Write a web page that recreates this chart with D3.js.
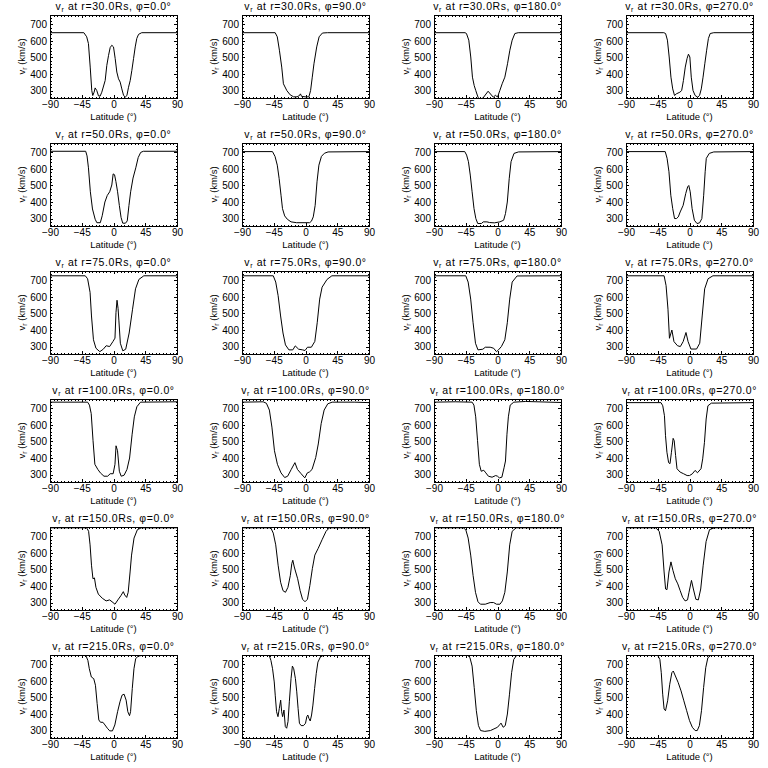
<!DOCTYPE html>
<html><head><meta charset="utf-8">
<script src="https://cdn.jsdelivr.net/npm/d3@7"></script>
<style>
body{margin:0;background:#fff}
svg{display:block;background:#fff}
text{font-family:"Liberation Sans",Arial,sans-serif;fill:#000}
</style>
</head><body>
<svg id="chart" width="768" height="768"></svg>
<script>
// ---- data ----
const latTicks = [-90, -45, 0, 45, 90];
const vTicks = [300, 400, 500, 600, 700];
const radii = [30, 50, 75, 100, 150, 215];
const phis = [0, 90, 180, 270];

const r30_phi0 = [[-90,650],[-42,650],[-38,625],[-35.5,584],[-33,442],[-30.8,300],[-29.4,270],[-27.5,290],[-26,316],[-23.7,300],[-21.3,268],[-19,266],[-16.6,290],[-11.8,361],[-9.5,452],[-7,513],[-4.7,560],[-2.4,574],[0,564],[2.4,493],[4.7,412],[7.1,371],[9.5,351],[11.8,310],[14.2,272],[16.6,260],[19,270],[21.3,320],[23.7,361],[26,422],[28.4,493],[30.8,564],[33,615],[35.5,640],[40,650],[90,650]];
const r30_phi90 = [[-90,650],[-43,650],[-40,625],[-37,544],[-33.7,442],[-31.3,341],[-26.5,300],[-21.7,274],[-16.8,262],[-12,262],[-8.5,270],[-7.2,280],[-5.5,265],[-0.5,262],[4.8,262],[7.2,300],[9.6,381],[12,462],[15.9,564],[19.3,625],[24,648],[31,650],[90,650]];
const r30_phi180 = [[-90,650],[-46,650],[-44,645],[-40.7,605],[-37.9,503],[-35.5,381],[-33,330],[-30.8,300],[-27.5,258],[-24,245],[-20,258],[-13.3,296],[-6,260],[-2.8,272],[0,260],[3.3,300],[6.6,341],[10.4,381],[14.2,462],[17.5,544],[20.8,605],[24.6,645],[29.4,650],[90,650]];
const r30_phi270 = [[-90,650],[-36.4,650],[-33.9,645],[-31.3,605],[-28.8,503],[-26.3,381],[-23.8,310],[-21.2,270],[-18.7,280],[-13.7,290],[-11.1,300],[-8.6,361],[-6,442],[-3.5,493],[-1.5,520],[0.5,503],[2.5,381],[5,300],[8,270],[11.6,260],[14.2,270],[16.7,310],[19.2,381],[21.7,462],[24.3,544],[26.8,615],[29.3,645],[34.4,650],[90,650]];

const r50_phi0 = [[-90,707],[-39.4,707],[-37.5,679],[-35.5,607],[-32.8,462],[-29.8,358],[-26,296],[-23.6,275],[-18.7,275],[-16,317],[-12.2,400],[-8.8,440],[-5.4,462],[-2.4,503],[-0.5,570],[1.5,565],[3.4,524],[5.8,462],[8.3,379],[10.7,307],[13.1,272],[17,272],[19.5,286],[21.9,379],[24.3,462],[27.7,545],[31.6,607],[35,669],[38.5,700],[42.3,707],[90,707]];
const r50_phi90 = [[-90,705],[-46.8,705],[-43.2,676],[-40,623],[-37.4,543],[-34.7,441],[-32.6,360],[-29.5,316],[-25.8,296],[-20.5,280],[-12.6,275],[-2.1,275],[5.8,275],[8.4,284],[11,310],[13.7,380],[16.3,522],[19,623],[22.6,676],[26.8,695],[32,703],[90,705]];
const r50_phi180 = [[-90,705],[-46.4,705],[-43.8,684],[-41.2,644],[-38.6,563],[-36,462],[-33.3,360],[-30.7,300],[-28,270],[-22.8,270],[-20.2,280],[-15,280],[-11.3,276],[-4.5,274],[3.4,280],[8.7,290],[11.3,330],[13.9,400],[16.6,541],[19.2,644],[23.4,694],[29.7,703],[90,705]];
const r50_phi270 = [[-90,705],[-34.4,705],[-31.8,664],[-29.1,583],[-26.5,441],[-23.8,360],[-21.2,300],[-18.5,300],[-15.9,310],[-13.2,340],[-9,380],[-5.3,452],[-2.6,492],[-1,500],[1,462],[3.7,360],[6.9,290],[10.6,270],[14.3,274],[17.5,300],[20.1,441],[22.2,583],[23.8,664],[28,694],[34.4,703],[90,705]];

const r75_phi0 = [[-90,728],[-40,728],[-36.7,710],[-33.2,628],[-31.2,485],[-28.4,341],[-24.9,290],[-19.4,269],[-14.5,284],[-10.4,305],[-5.5,300],[-0.7,331],[2.1,351],[3.5,505],[5,580],[6.5,530],[7.6,460],[9.7,320],[13.2,274],[17.3,284],[22.2,382],[27,526],[31.2,649],[36,706],[43,728],[90,728]];
const r75_phi90 = [[-90,728],[-45.7,728],[-42.2,690],[-38.8,608],[-35.3,485],[-31.9,382],[-28.4,310],[-23.5,280],[-18,280],[-14.5,304],[-9.7,284],[-4.2,280],[-0.7,276],[2.8,296],[8.3,296],[13.2,331],[16.6,444],[20.1,587],[23.5,659],[30.5,706],[37.4,728],[90,728]];
const r75_phi180 = [[-90,728],[-45,728],[-41.6,690],[-38,587],[-34.6,444],[-31.2,320],[-27.7,280],[-20.8,284],[-17.3,296],[-10.4,296],[-5.5,290],[-1.4,269],[1.4,280],[5.5,300],[10.4,341],[13.9,444],[17.3,587],[20.8,690],[27.7,727],[90,728]];
const r75_phi270 = [[-90,728],[-36,728],[-33.2,669],[-30.5,526],[-28.4,350],[-25,400],[-22,330],[-17,305],[-13,300],[-9,330],[-5,385],[-2,330],[2,285],[10,285],[14.5,320],[18,485],[21.5,649],[26.3,710],[33.2,728],[90,728]];

const r100_phi0 = [[-90,738],[-36.7,738],[-34.1,720],[-31.6,669],[-29,505],[-26.4,362],[-22.2,331],[-18.6,310],[-13.5,290],[-8.3,290],[-4.7,305],[-0.5,305],[2.1,362],[3.6,474],[5.7,444],[8.3,320],[10.9,290],[15,296],[19.1,331],[22.8,400],[26.4,544],[29.5,649],[33.1,710],[38.3,738],[90,740]];
const r100_phi90 = [[-90,738],[-60,740],[-55.4,731],[-51.2,690],[-47.6,587],[-44,444],[-39.8,362],[-34.7,310],[-29.5,282],[-25.3,290],[-20.2,331],[-15,372],[-11.4,331],[-6.2,305],[-1,280],[2.6,310],[5.7,316],[9.3,331],[14.5,403],[18.1,485],[22.2,608],[26.4,690],[31.6,728],[37.8,738],[70,738],[90,735]];
const r100_phi180 = [[-90,738],[-60,740],[-36,738],[-33.4,720],[-30.9,649],[-28.3,505],[-25.7,362],[-23.1,320],[-19.5,326],[-16.5,310],[-12.9,290],[-7.7,284],[-2.6,294],[0,290],[2.6,280],[6.2,284],[9.3,341],[11.3,382],[13.4,544],[15.4,649],[18,720],[23.1,738],[40,742],[90,736]];
const r100_phi270 = [[-90,735],[-40.4,735],[-37.9,716],[-35.5,656],[-34,535],[-32,435],[-29.6,372],[-27.6,366],[-25.6,435],[-23.2,519],[-21.7,505],[-19.7,415],[-17.7,335],[-13.3,315],[-8.4,305],[-3.4,294],[0,294],[3.9,304],[7.9,325],[11.3,311],[16.3,335],[18.7,395],[21.2,495],[23.6,636],[26.1,716],[31,732],[90,735]];

const r150_phi0 = [[-90,752],[-38,752],[-35.3,731],[-33.2,649],[-31.2,526],[-29.1,444],[-27,449],[-24.9,392],[-21.5,351],[-15.9,326],[-10.4,310],[-5.5,316],[-2.1,305],[2.1,290],[6.2,316],[10.4,341],[13.9,366],[15.9,346],[18.7,331],[20.8,362],[23.5,485],[25.6,587],[29.1,690],[33.9,741],[39.5,752],[90,752]];
const r150_phi90 = [[-90,752],[-49.2,752],[-45.7,720],[-42.2,649],[-38.8,526],[-35.3,423],[-31.9,372],[-28.4,362],[-24.9,392],[-21.5,464],[-19.4,536],[-18,556],[-15.9,515],[-13.9,485],[-11.1,444],[-7.6,372],[-4.2,320],[-0.7,305],[2.8,320],[6.2,403],[9.7,505],[13.2,587],[18,628],[23.5,680],[29.1,731],[33.9,752],[90,752]];
const r150_phi180 = [[-90,752],[-48.5,752],[-45,741],[-41.6,690],[-38,587],[-34.6,464],[-31.2,362],[-27.7,305],[-24.2,290],[-17.3,290],[-10.4,300],[-5.5,300],[-1.4,290],[3.5,290],[6.9,310],[10.4,362],[13.9,485],[17.3,649],[20.8,731],[26.3,752],[90,752]];
const r150_phi270 = [[-90,752],[-47.8,752],[-43,731],[-38.8,649],[-36,485],[-33.9,382],[-31.9,378],[-29.1,485],[-26.3,546],[-23.5,495],[-20.1,444],[-16.6,413],[-13.2,372],[-9.7,331],[-6.2,310],[-2.8,316],[-0.7,362],[2.8,434],[5.5,382],[9,320],[12.5,316],[15.9,382],[19.4,526],[23.5,669],[28.4,741],[35.3,752],[90,752]];

const r215_phi0 = [[-90,754],[-39.2,754],[-36.3,724],[-34.3,674],[-31.4,624],[-28,614],[-25.6,574],[-23.2,464],[-20.8,364],[-18.4,350],[-15,350],[-12.1,334],[-8.7,314],[-5.3,298],[-1.5,298],[1.9,334],[5.8,414],[9.2,474],[12.1,514],[15,520],[17.9,484],[20.3,414],[22.7,390],[24.2,414],[26.6,554],[29,674],[31.4,734],[34.8,750],[40,754],[90,754]];
const r215_phi90 = [[-90,754],[-51.4,754],[-49,724],[-46.7,674],[-44.3,594],[-42.9,514],[-41,414],[-39,384],[-37.1,434],[-35.2,484],[-33.8,414],[-32.4,384],[-30.5,424],[-28.6,324],[-26.7,314],[-24.8,354],[-22.9,474],[-20.5,614],[-18.6,690],[-16.7,674],[-14.3,614],[-12.4,534],[-10.5,434],[-8.6,344],[-6.2,330],[-2.9,330],[0,344],[1.9,384],[3.3,394],[4.8,374],[6.7,358],[8.6,394],[10.5,454],[12.9,554],[15.2,644],[17.6,714],[21,744],[24.8,754],[90,754]];
const r215_phi180 = [[-90,754],[-42,754],[-39,740],[-36,690],[-33,560],[-30,420],[-27,330],[-24,300],[-18,295],[-10,300],[-5,310],[0,320],[3,335],[5,345],[8,320],[11,330],[14,400],[17,520],[20,650],[23,730],[27,754],[90,754]];
const r215_phi270 = [[-90,754],[-45,754],[-42,730],[-40,650],[-38,520],[-36,430],[-34,420],[-31,480],[-28,580],[-25,650],[-23,660],[-20,630],[-16,590],[-12,540],[-8,480],[-4,420],[0,360],[4,320],[8,300],[11,300],[14,330],[17,420],[20,560],[23,680],[26,740],[30,754],[90,754]];

const panelData = [
  [r30_phi0, r30_phi90, r30_phi180, r30_phi270],
  [r50_phi0, r50_phi90, r50_phi180, r50_phi270],
  [r75_phi0, r75_phi90, r75_phi180, r75_phi270],
  [r100_phi0, r100_phi90, r100_phi180, r100_phi270],
  [r150_phi0, r150_phi90, r150_phi180, r150_phi270],
  [r215_phi0, r215_phi90, r215_phi180, r215_phi270]
];

// ---- layout ----
const cellW = 192, cellH = 128;
const box = {l: 50, r: 177, t: 15, b: 98};
const x = d3.scaleLinear().domain([-90, 90]).range([box.l, box.r]);
const y = d3.scaleLinear().domain([255, 757]).range([box.b, box.t]);
const latMinor = d3.range(-90, 91, 5);
const vMinor = d3.range(260, 757, 20);

const svg = d3.select("#chart");
svg.append("defs").append("clipPath").attr("id", "plotclip")
  .append("rect").attr("x", box.l).attr("y", box.t)
  .attr("width", box.r - box.l).attr("height", box.b - box.t);

const line = d3.line().x(d => x(d[0])).y(d => y(d[1]));

function styleAxis(g) {
  g.select(".domain").remove();
  g.selectAll("line").attr("stroke", "#000").attr("shape-rendering", "crispEdges");
  g.selectAll("text").attr("font-family", "Liberation Sans, Arial, sans-serif").attr("font-size", 10).attr("fill", "#000");
  g.attr("font-family", null).attr("font-size", null);
}

radii.forEach((r, i) => {
  phis.forEach((phi, j) => {
    const g = svg.append("g").attr("transform", `translate(${j * cellW},${i * cellH})`);

    // minor ticks
    g.append("g").attr("transform", `translate(0,${box.b})`)
      .call(d3.axisBottom(x).tickValues(latMinor).tickFormat("").tickSizeInner(-1.5).tickSizeOuter(0)).call(styleAxis);
    g.append("g").attr("transform", `translate(0,${box.t})`)
      .call(d3.axisTop(x).tickValues(latMinor).tickFormat("").tickSizeInner(-1.5).tickSizeOuter(0)).call(styleAxis);
    g.append("g").attr("transform", `translate(${box.l},0)`)
      .call(d3.axisLeft(y).tickValues(vMinor).tickFormat("").tickSizeInner(-1.5).tickSizeOuter(0)).call(styleAxis);
    g.append("g").attr("transform", `translate(${box.r},0)`)
      .call(d3.axisRight(y).tickValues(vMinor).tickFormat("").tickSizeInner(-1.5).tickSizeOuter(0)).call(styleAxis);

    // major ticks with labels
    g.append("g").attr("transform", `translate(0,${box.b})`)
      .call(d3.axisBottom(x).tickValues(latTicks).tickFormat(d => d < 0 ? "\u2212" + Math.abs(d) : d).tickSizeInner(-3).tickSizeOuter(0).tickPadding(3)).call(styleAxis);
    g.append("g").attr("transform", `translate(0,${box.t})`)
      .call(d3.axisTop(x).tickValues(latTicks).tickFormat("").tickSizeInner(-3).tickSizeOuter(0)).call(styleAxis);
    g.append("g").attr("transform", `translate(${box.l},0)`)
      .call(d3.axisLeft(y).tickValues(vTicks).tickFormat(d3.format("d")).tickSizeInner(-3).tickSizeOuter(0).tickPadding(3)).call(styleAxis);
    g.append("g").attr("transform", `translate(${box.r},0)`)
      .call(d3.axisRight(y).tickValues(vTicks).tickFormat("").tickSizeInner(-3).tickSizeOuter(0)).call(styleAxis);

    // frame
    g.append("rect").attr("x", box.l).attr("y", box.t)
      .attr("width", box.r - box.l).attr("height", box.b - box.t)
      .attr("fill", "none").attr("stroke", "#000").attr("stroke-width", 1)
      .attr("shape-rendering", "crispEdges");

    // data line
    g.append("path").datum(panelData[i][j])
      .attr("clip-path", "url(#plotclip)")
      .attr("fill", "none").attr("stroke", "#000").attr("stroke-width", 1)
      .attr("d", line);

    // title
    const t = g.append("text").attr("x", (box.l + box.r) / 2).attr("y", 10)
      .attr("text-anchor", "middle").attr("font-size", 10.5).attr("letter-spacing", 0.6);
    t.append("tspan").text("v");
    t.append("tspan").attr("font-size", 7).attr("dy", 2).text("r");
    t.append("tspan").attr("dy", -2).text(` at r=${r.toFixed(1)}Rs, \u03c6=${phi.toFixed(1)}\u00b0`);

    // x label
    g.append("text").attr("x", (box.l + box.r) / 2).attr("y", 120)
      .attr("text-anchor", "middle").attr("font-size", 9.5).text("Latitude (\u00b0)");

    // y label
    const yl = g.append("text").attr("transform", `translate(25,${(box.t + box.b) / 2}) rotate(-90)`)
      .attr("text-anchor", "middle").attr("font-size", 9.5);
    yl.append("tspan").text("v");
    yl.append("tspan").attr("font-size", 7).attr("dy", 2).text("r");
    yl.append("tspan").attr("dy", -2).text(" (km/s)");
  });
});
</script>
</body></html>
